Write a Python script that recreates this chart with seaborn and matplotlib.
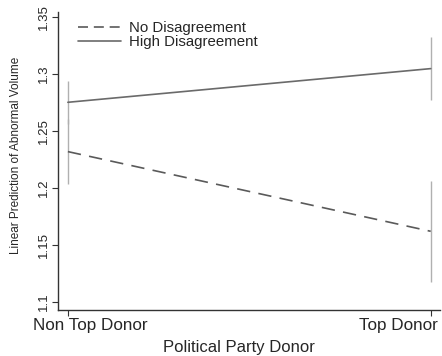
import matplotlib
matplotlib.use("Agg")
import matplotlib.pyplot as plt
import matplotlib.transforms as mtransforms
import seaborn as sns
import pandas as pd
from matplotlib.lines import Line2D

# Predicted abnormal volume by donor status and disagreement level
categories = ["Non Top Donor", "Top Donor"]
no_disagreement = [1.2318, 1.1620]
no_disagreement_lo = [1.2035, 1.1175]
no_disagreement_hi = [1.2600, 1.2060]
high_disagreement = [1.2750, 1.3045]
high_disagreement_lo = [1.2560, 1.2770]
high_disagreement_hi = [1.2940, 1.3320]
y_ticks = [1.1, 1.15, 1.2, 1.25, 1.3, 1.35]
y_tick_labels = ["1.1", "1.15", "1.2", "1.25", "1.3", "1.35"]

sns.set_theme(style="white")
plt.rcParams["font.family"] = ["Liberation Sans", "DejaVu Sans"]

df = pd.DataFrame({
    "x": [0, 1, 0, 1],
    "pred": no_disagreement + high_disagreement,
    "group": ["No Disagreement"] * 2 + ["High Disagreement"] * 2,
})

fig = plt.figure(figsize=(4.42, 3.56), dpi=100)
ax = fig.add_axes([0.131, 0.129, 0.864, 0.837])

# confidence intervals
ci_color = "#b0b0b0"
for lo, hi in [(no_disagreement_lo, no_disagreement_hi),
               (high_disagreement_lo, high_disagreement_hi)]:
    ax.vlines([0, 1], lo, hi, color=ci_color, lw=1.0, zorder=1)

sns.lineplot(data=df, x="x", y="pred", hue="group", style="group",
             palette={"No Disagreement": "#5a5a5a", "High Disagreement": "#6a6a6a"},
             dashes={"No Disagreement": (8, 5), "High Disagreement": ""},
             lw=1.2, ax=ax, legend=False, zorder=2)

ax.set_xlim(-0.0275, 1.025)
ax.set_ylim(1.093, 1.354)
ax.set_xticks([0, 1])
ax.set_xticklabels(categories, fontsize=12.3)
ax.set_yticks(y_ticks)
ax.set_yticklabels(y_tick_labels, fontsize=9.5, rotation=90, va="center")
ax.tick_params(axis="both", which="both", direction="out", length=4, width=0.8,
               color="#333333", left=True, bottom=True, pad=2)
for s in ["top", "right"]:
    ax.spines[s].set_visible(False)
for s in ["left", "bottom"]:
    ax.spines[s].set_color("#333333")
    ax.spines[s].set_linewidth(1.0)

# keep the category labels inside the plotting width
xl = ax.get_xticklabels()
xl[0].set_transform(xl[0].get_transform() +
                    mtransforms.ScaledTranslation(0.22, 0, fig.dpi_scale_trans))
xl[1].set_horizontalalignment("right")
xl[1].set_transform(xl[1].get_transform() +
                    mtransforms.ScaledTranslation(0.07, 0, fig.dpi_scale_trans))

ax.set_xlabel("Political Party Donor", fontsize=12)
ax.xaxis.set_label_coords(0.475, -0.102)
ax.set_ylabel("Linear Prediction of Abnormal Volume", fontsize=8.5)
ax.yaxis.set_label_coords(-0.094, 0.52)

handles = [Line2D([], [], color="#5a5a5a", lw=1.2, dashes=(6, 3.5)),
           Line2D([], [], color="#6a6a6a", lw=1.2)]
ax.legend(handles, ["No Disagreement", "High Disagreement"], loc="upper left",
          bbox_to_anchor=(0.03, 1.0), frameon=False, fontsize=10.8,
          handlelength=2.85, handletextpad=0.55, labelspacing=0.0, borderaxespad=0.2)

fig.savefig("out.png", dpi=100, facecolor="white")
